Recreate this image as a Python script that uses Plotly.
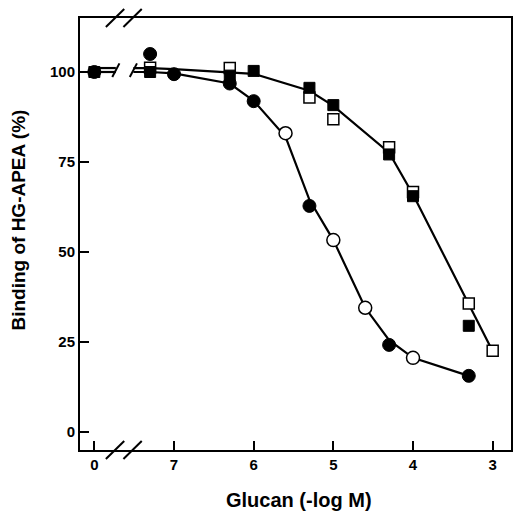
import plotly.graph_objects as go

# x values are -log M ; 0 = control without glucan (plotted left of the axis break)
filled_circle_x = [0, 7.3, 7.0, 6.3, 6.0, 5.3, 4.3, 3.3]
filled_circle_y = [100, 105, 99.4, 96.8, 91.9, 62.8, 24.2, 15.6]
open_circle_x = [5.6, 5.0, 4.6, 4.0]
open_circle_y = [83.0, 53.3, 34.5, 20.6]
filled_square_x = [0, 7.3, 6.3, 6.0, 5.3, 5.0, 4.3, 4.0, 3.3]
filled_square_y = [100, 100, 99.0, 100.3, 95.6, 90.8, 77.1, 65.5, 29.5]
open_square_x = [7.3, 6.3, 5.3, 5.0, 4.3, 4.0, 3.3, 3.0]
open_square_y = [101.2, 101.1, 92.9, 86.9, 79.1, 66.7, 35.7, 22.6]

circle_curve_x = [0, 7.3, 7.0, 6.3, 6.0, 5.6, 5.3, 5.0, 4.6, 4.3, 4.0, 3.3]
circle_curve_y = [100, 100, 99.6, 96.8, 92, 82, 64.5, 53.3, 34.5, 25.5, 20.6, 15.6]
square_curve_x = [0, 7.3, 7.0, 6.3, 6.0, 5.3, 5.0, 4.3, 4.0, 3.0]
square_curve_y = [101.1, 101.1, 100.8, 100.0, 99.5, 94.8, 90.6, 77.6, 66.0, 22.4]

x_tick_values = [0, 7, 6, 5, 4, 3]
x_tick_labels = ["0", "7", "6", "5", "4", "3"]
y_tick_values = [0, 25, 50, 75, 100]
y_tick_labels = ["0", "25", "50", "75", "100"]

# broken axis: control (0) is placed one unit left of 7
BREAK_L, BREAK_R = 2.27, 2.49


def pos(v):
    return 2.0 if v == 0 else 10.0 - v


def posl(vals):
    return [pos(v) for v in vals]


def broken_curve(xs, ys):
    t = posl(xs)
    y0, y1 = ys[0], ys[1]
    def yat(tt):
        return y0 + (y1 - y0) * (tt - t[0]) / (t[1] - t[0])
    bx = [t[0], BREAK_L, None, BREAK_R] + t[1:]
    by = [y0, yat(BREAK_L), None, yat(BREAK_R)] + list(ys[1:])
    return bx, by


fig = go.Figure()
for cx, cy in [(square_curve_x, square_curve_y), (circle_curve_x, circle_curve_y)]:
    bx, by = broken_curve(cx, cy)
    fig.add_trace(go.Scatter(x=bx, y=by, mode="lines", line=dict(color="black", width=2.2),
                             connectgaps=False, hoverinfo="skip"))

fig.add_trace(go.Scatter(x=posl(open_square_x), y=open_square_y, mode="markers",
                         marker=dict(symbol="square", size=11, color="white",
                                     line=dict(color="black", width=1.5))))
fig.add_trace(go.Scatter(x=posl(filled_square_x), y=filled_square_y, mode="markers",
                         marker=dict(symbol="square", size=11, color="black",
                                     line=dict(color="black", width=1))))
fig.add_trace(go.Scatter(x=posl(open_circle_x), y=open_circle_y, mode="markers",
                         marker=dict(symbol="circle", size=13, color="white",
                                     line=dict(color="black", width=1.5))))
fig.add_trace(go.Scatter(x=posl(filled_circle_x), y=filled_circle_y, mode="markers",
                         marker=dict(symbol="circle", size=13, color="black",
                                     line=dict(color="black", width=1))))

shapes = []
# axis break slashes on bottom and top frame
for tc in (2.26, 2.48):
    for yp in (0.0, 1.0):
        shapes.append(dict(type="line", xref="x", yref="paper",
                           x0=tc - 0.115, x1=tc + 0.115, y0=yp - 0.021, y1=yp + 0.021,
                           line=dict(color="black", width=2)))
# slashes at the break of the data lines
for tc in (BREAK_L, BREAK_R):
    shapes.append(dict(type="line", xref="x", yref="y",
                       x0=tc - 0.045, x1=tc + 0.045, y0=98.6, y1=102.4,
                       line=dict(color="black", width=2)))

fig.update_layout(
    width=515, height=513,
    margin=dict(l=80, r=2, t=18, b=63, pad=0),
    plot_bgcolor="white", paper_bgcolor="white",
    showlegend=False,
    font=dict(family="Liberation Sans, Arial, sans-serif", color="black"),
    shapes=shapes,
    xaxis=dict(range=[1.82, 7.23], tickvals=posl(x_tick_values), ticktext=x_tick_labels,
               ticks="inside", ticklen=9, tickwidth=2, tickcolor="black",
               showline=True, linewidth=2, linecolor="black", mirror=True,
               showgrid=False, zeroline=False,
               tickfont=dict(size=15, weight="bold", color="black")),
    yaxis=dict(range=[-5, 115], tickvals=y_tick_values, ticktext=y_tick_labels,
               ticks="inside", ticklen=9, tickwidth=2, tickcolor="black",
               showline=True, linewidth=2, linecolor="black", mirror=True,
               showgrid=False, zeroline=False,
               tickfont=dict(size=15, weight="bold", color="black")),
    annotations=[
        dict(text="Glucan (-log M)", xref="paper", yref="paper", x=0.508, y=-0.116,
             xanchor="center", yanchor="middle", showarrow=False,
             font=dict(size=20, weight="bold", color="black")),
        dict(text="Binding of HG-APEA (%)", xref="paper", yref="paper", x=-0.143, y=0.532,
             xanchor="center", yanchor="middle", textangle=-90, showarrow=False,
             font=dict(size=19, weight="bold", color="black")),
    ],
)

fig.write_html("out.html", config={"displayModeBar": False},
               post_script="document.body.style.margin='0';")
